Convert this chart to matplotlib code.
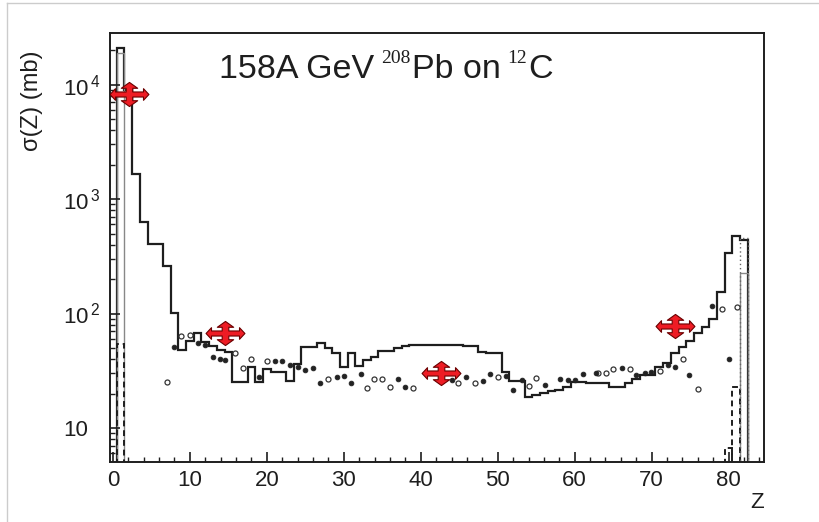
import numpy as np
import matplotlib
matplotlib.use('Agg')
import matplotlib.pyplot as plt
from matplotlib.path import Path
from matplotlib.lines import Line2D
from matplotlib.ticker import MultipleLocator, FixedLocator, LogLocator, NullFormatter

plt.rcParams['font.family'] = ['Liberation Sans', 'DejaVu Sans']
plt.rcParams['mathtext.fontset'] = 'custom'
plt.rcParams['mathtext.rm'] = 'Liberation Sans'

# ---------------------------------------------------------------------------
# Data
# ---------------------------------------------------------------------------

# main solid histogram, one bin per charge Z = 1 .. 82
z_bins = np.arange(1, 83)
sigma_main = [21000, 9000, 1650, 630, 405, 405, 260, 101, 48, 58,
              67, 56, 52, 48, 46, 25, 25, 34, 25, 33,
              31, 31, 26, 36, 51, 51, 55, 50, 45, 34,
              45, 35, 39, 42, 47, 47, 50, 52, 53, 53,
              53, 53, 53, 53, 53, 52, 52, 46, 45, 45,
              31, 25.5, 25.5, 18.8, 19.4, 20.4, 21, 21.5, 23, 25,
              25, 24.5, 24.5, 24.5, 23, 23, 24.5, 27, 29, 29,
              34, 37, 45, 51, 58, 67, 77, 90, 155, 337,
              474, 443]

# dashed histogram (only the non-empty bins)
dash_z = [1, 80, 81]
dash_sigma = [54, 6.7, 23]

# dotted and thin grey histogram pieces near the projectile
dot_z = [82]
dot_sigma = [460]
grey_z = [1, 82]
grey_sigma = [19000, 225]

# measured points: open and filled symbols
open_z = [7, 8.9, 10, 15.9, 16.9, 17.9, 20, 28, 33, 33.9, 34.9, 36, 39,
          44.9, 47, 50.1, 54.1, 55, 63, 64.1, 65, 67.2, 71.1, 74.1, 76,
          79.1, 81.1]
open_sigma = [25.4, 63.6, 65, 45.5, 33.2, 39.8, 38.5, 26.6, 22.5, 26.7, 26.8,
              22.9, 22.2, 24.6, 24.6, 28.1, 23.3, 27.2, 30, 30, 32.6, 32.6,
              31.6, 39.8, 21.8, 109, 113]

fill_z = [8, 11, 12, 13, 13.9, 14.5, 19, 21, 22, 23, 24.1, 24.9, 26, 26.9,
          29.1, 30, 31, 32.2, 37.1, 37.9, 44, 45.9, 48.1, 49, 51.1, 52, 53.1,
          56.1, 58.1, 59.1, 60, 61.1, 62.8, 66.1, 68, 69.1, 69.9, 72.1, 73,
          74.9, 77.8, 80.1]
fill_sigma = [51.3, 55, 53, 41.4, 39.8, 39, 28.1, 38.5, 38.5, 35.5, 34.4,
              31.9, 33.6, 24.8, 28.1, 28.5, 24.8, 29.8, 26.6, 22.7, 26.2,
              27.7, 25.9, 29.6, 28.5, 21.5, 26.2, 23.8, 26.6, 26.2, 26.2,
              29.5, 30.1, 33.2, 29.1, 30, 31, 35.5, 34.4, 29.1, 116, 40]

# red move-cursor symbols sitting on the figure
arrow_z = [2.1, 14.6, 42.6, 73.1]
arrow_sigma = [8300, 67, 30, 78]

y_major = [10, 100, 1000, 10000]
y_labels = ['10', r'$10^{\,2}$', r'$10^{\,3}$', r'$10^{\,4}$']

title_parts = ['158A GeV', '208', 'Pb on', '12', 'C']


def _cursor_marker():
    v = [(1, 0), (0.72, 0.3), (0.72, 0.13), (0.17, 0.13), (0.17, 0.32),
         (0.42, 0.32), (0, 0.62), (-0.42, 0.32), (-0.17, 0.32),
         (-0.17, 0.13), (-0.72, 0.13), (-0.72, 0.3), (-1, 0),
         (-0.72, -0.3), (-0.72, -0.13), (-0.17, -0.13), (-0.17, -0.32),
         (-0.42, -0.32), (0, -0.62), (0.42, -0.32), (0.17, -0.32),
         (0.17, -0.13), (0.72, -0.13), (0.72, -0.3), (1, 0)]
    codes = [Path.MOVETO] + [Path.LINETO] * (len(v) - 2) + [Path.CLOSEPOLY]
    return Path(v, codes)


def _single_bin(ax, zc, s, **kw):
    ax.stairs([s], [zc - 0.5, zc + 0.5], baseline=1, **kw)


# ---------------------------------------------------------------------------
# Figure
# ---------------------------------------------------------------------------

W, H = 819, 522
fig = plt.figure(figsize=(W / 100, H / 100), dpi=100)
ax = fig.add_axes([110 / W, 1 - 462 / H, 654 / W, 429 / H])

ink = '#1e1e1e'

edges = np.append(z_bins - 0.5, z_bins[-1] + 0.5)
ax.stairs(sigma_main, edges, baseline=1, color=ink, lw=1.6)

for zc, s in zip(grey_z, grey_sigma):
    _single_bin(ax, zc, s, color='#888888', lw=1.0)
for zc, s in zip(dash_z, dash_sigma):
    _single_bin(ax, zc, s, color=ink, lw=1.4, linestyle=(0, (3, 2)))
for zc, s in zip(dot_z, dot_sigma):
    _single_bin(ax, zc, s, color='#666666', lw=1.0, linestyle=(0, (1, 2)))

ax.plot(open_z, open_sigma, 'o', ls='none', ms=3.6, mfc='white',
        mec='#333333', mew=0.9)
ax.plot(fill_z, fill_sigma, 'o', ls='none', ms=3.4, mfc='#222222',
        mec='#222222', mew=0.6)

ax.plot(arrow_z, arrow_sigma, ls='none', marker=_cursor_marker(), ms=28,
        mfc='#ee1c24', mec='#6a0000', mew=0.8, zorder=5)

ax.set_yscale('log')
ax.set_xlim(-0.38, 84.6)
ax.set_ylim(5.05, 28200)

ax.xaxis.set_major_locator(MultipleLocator(10))
ax.xaxis.set_minor_locator(MultipleLocator(2))
ax.yaxis.set_major_locator(FixedLocator(y_major))
ax.yaxis.set_minor_locator(LogLocator(base=10, subs=np.arange(2, 10)))
ax.yaxis.set_minor_formatter(NullFormatter())
ax.set_yticklabels(y_labels)
ax.set_xticks(np.arange(0, 81, 10))
ax.set_xticklabels([str(v) for v in range(0, 81, 10)])

ax.tick_params(axis='x', which='major', direction='in', length=7, width=1.2,
               labelsize=16, pad=6, colors=ink)
ax.tick_params(axis='x', which='minor', direction='in', length=3.5, width=1.0,
               colors=ink)
ax.tick_params(axis='y', which='major', direction='in', length=7, width=1.2,
               labelsize=16, pad=34, colors=ink)
ax.tick_params(axis='y', which='minor', direction='in', length=3.5, width=1.0,
               colors=ink)
for lab in ax.get_yticklabels():
    lab.set_horizontalalignment('left')

for sp in ax.spines.values():
    sp.set_color(ink)
    sp.set_linewidth(1.4)

# axis titles
fig.text(32 / W, 1 - 101 / H, 'σ(Z) (mb)', rotation=90, ha='center',
         va='center', fontsize=17, color=ink)
fig.text(757 / W, 1 - 502 / H, 'Z', ha='center', va='center', fontsize=16,
         color=ink)

# title: sans pieces with serif superscripts, laid out left to right
renderer = fig.canvas.get_renderer()
x_px = 219
gaps = [7, 1, 7, 1, 0]
for i, txt in enumerate(title_parts):
    sup = i in (1, 3)
    fam = ['Liberation Serif'] if sup else ['Liberation Sans']
    fs = 14 if sup else 24.5
    base = 63 if sup else 78
    t = fig.text(x_px / W, 1 - base / H, txt, ha='left', va='baseline',
                 fontsize=fs, family=fam, color=ink)
    x_px = t.get_window_extent(renderer).x1 + gaps[i]

# faint frame of the original picture
fig.add_artist(Line2D([7 / W, 7 / W], [0, 1 - 3 / H], color='#cccccc', lw=1))
fig.add_artist(Line2D([7 / W, 1], [1 - 3 / H, 1 - 3 / H], color='#cccccc', lw=1))

fig.savefig('out.png', dpi=100)
